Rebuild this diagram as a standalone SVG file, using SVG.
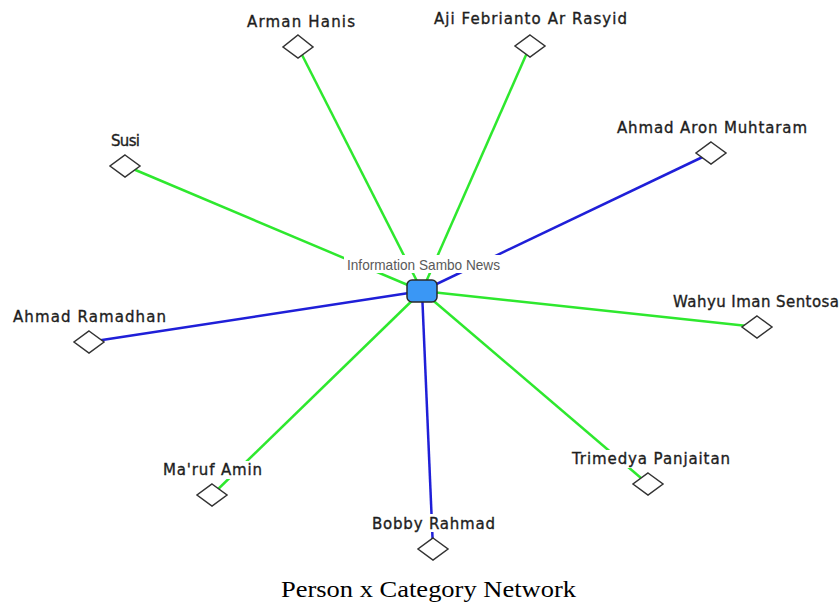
<svg xmlns="http://www.w3.org/2000/svg" width="840" height="603" viewBox="0 0 840 603">
<style>
.lbl{font-family:"DejaVu Sans","Verdana",sans-serif;font-size:15px;fill:#1e1e1e;stroke:#1e1e1e;stroke-width:0.35}
.bg{fill:#ffffff}
.dia{fill:#ffffff;stroke:#333333;stroke-width:1.5}
.g{stroke:#2ee82e;stroke-width:2.5;fill:none}
.b{stroke:#1f1fd8;stroke-width:2.5;fill:none}
.cap{font-family:"Liberation Serif","Times New Roman",serif;font-size:23px;fill:#000}
.clbl{font-family:"Liberation Sans",Arial,sans-serif;font-size:15px;fill:#5a5a5a}
</style>
<rect width="840" height="603" fill="#ffffff"/>
<g id="connectors">
<line class="g" x1="422" y1="291" x2="298" y2="47"/>
<line class="g" x1="422" y1="291" x2="530" y2="46"/>
<line class="b" x1="422" y1="291" x2="711" y2="153"/>
<line class="g" x1="422" y1="291" x2="126" y2="166"/>
<line class="b" x1="422" y1="291" x2="89" y2="342"/>
<line class="g" x1="422" y1="291" x2="757" y2="327"/>
<line class="g" x1="422" y1="291" x2="212" y2="495"/>
<line class="g" x1="422" y1="291" x2="648" y2="484"/>
<line class="b" x1="422" y1="291" x2="433" y2="549"/>
</g>
<g id="label-backgrounds">
<rect class="bg" x="344" y="255" width="159" height="18"/>
<rect class="bg" x="160" y="461" width="105" height="18"/>
<rect class="bg" x="569" y="450" width="164" height="18"/>
<rect class="bg" x="369" y="514" width="129" height="18"/>
</g>
<g id="n-arman">
<polygon class="dia" points="298,35 313,47 298,58 283,47"/>
<text class="lbl" x="247" y="27" textLength="108" lengthAdjust="spacing">Arman Hanis</text>
</g>
<g id="n-aji">
<polygon class="dia" points="530,35 545,46 530,57 515,46"/>
<text class="lbl" x="434" y="24" textLength="193" lengthAdjust="spacing">Aji Febrianto Ar Rasyid</text>
</g>
<g id="n-aron">
<polygon class="dia" points="711,142 726,153 711,164 696,153"/>
<text class="lbl" x="617" y="133" textLength="190" lengthAdjust="spacing">Ahmad Aron Muhtaram</text>
</g>
<g id="n-susi">
<polygon class="dia" points="125,155 140,166 125,177 110,166"/>
<text class="lbl" x="111" y="146" textLength="29" lengthAdjust="spacing">Susi</text>
</g>
<g id="n-ramadhan">
<polygon class="dia" points="89,331 104,342 89,353 74,342"/>
<text class="lbl" x="13" y="322" textLength="153" lengthAdjust="spacing">Ahmad Ramadhan</text>
</g>
<g id="n-wahyu">
<polygon class="dia" points="757,316 772,327 757,338 742,327"/>
<text class="lbl" x="673" y="307" textLength="166" lengthAdjust="spacing">Wahyu Iman Sentosa</text>
</g>
<g id="n-maruf">
<polygon class="dia" points="212,484 227,495 212,506 197,495"/>
<text class="lbl" x="163" y="475" textLength="99" lengthAdjust="spacing">Ma'ruf Amin</text>
</g>
<g id="n-trimedya">
<polygon class="dia" points="648,473 663,484 648,495 633,484"/>
<text class="lbl" x="572" y="464" textLength="158" lengthAdjust="spacing">Trimedya Panjaitan</text>
</g>
<g id="n-bobby">
<polygon class="dia" points="433,538 448,549 433,560 418,549"/>
<text class="lbl" x="372" y="529" textLength="123" lengthAdjust="spacing">Bobby Rahmad</text>
</g>
<g id="n-center">
<text class="clbl" x="347" y="270" textLength="153" lengthAdjust="spacingAndGlyphs">Information Sambo News</text>
<rect x="407" y="280" width="30" height="22" rx="5" fill="#3a97f5" stroke="#2a2a2a" stroke-width="1.5"/>
</g>
<text class="cap" x="281" y="597" textLength="295" lengthAdjust="spacingAndGlyphs">Person x Category Network</text>
</svg>
